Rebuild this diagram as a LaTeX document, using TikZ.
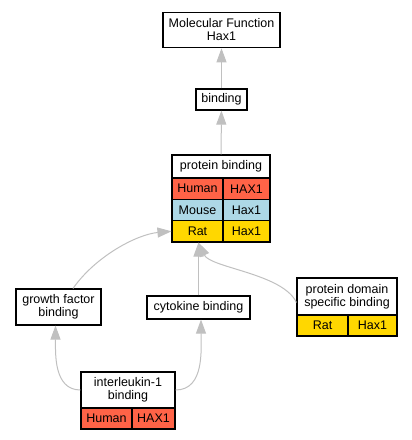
\documentclass[tikz,border=0pt]{standalone}
\usepackage{fontspec}
\setmainfont{Liberation Sans}
\usetikzlibrary{arrows.meta}
\definecolor{tomato}{HTML}{FF6347}
\definecolor{lightblue}{HTML}{ADD8E6}
\definecolor{gold}{HTML}{FFD700}
\definecolor{edgegray}{HTML}{C0C0C0}

\begin{document}
\begin{tikzpicture}[x=1pt,y=1pt, isa/.style={draw=edgegray, line width=1pt, -{Triangle[length=14pt,width=10pt]}}]
        \useasboundingbox (0,0) rectangle (412,-440);
        \begin{scope}[every node/.style={draw, line width=1.1pt, inner sep=0pt, align=center, font=\fontsize{12.5}{13}\selectfont}]
                \node[minimum width=117pt, minimum height=35.5pt] (mf) at (221.5,-30) {Molecular Function\\Hax1};
                \node[minimum width=51pt, minimum height=21pt] (bind) at (221.5,-99.5) {binding};
                % protein binding table
                \node[minimum width=98pt, minimum height=23pt] (pb) at (221,-166.5) {protein binding};
                \node[fill=tomato, minimum width=51pt, minimum height=21.3pt] (pb1a) at (197.5,-188.7) {Human};
                \node[fill=tomato, minimum width=47pt, minimum height=21.3pt] (pb1b) at (246.5,-188.7) {HAX1};
                \node[fill=lightblue, minimum width=51pt, minimum height=21.3pt] (pb2a) at (197.5,-210) {Mouse};
                \node[fill=lightblue, minimum width=47pt, minimum height=21.3pt] (pb2b) at (246.5,-210) {Hax1};
                \node[fill=gold, minimum width=51pt, minimum height=21.3pt] (pb3a) at (197.5,-231.3) {Rat};
                \node[fill=gold, minimum width=47pt, minimum height=21.3pt] (pb3b) at (246.5,-231.3) {Hax1};
                \node[minimum width=85pt, minimum height=36pt] (gfb) at (58.5,-307) {growth factor\\binding};
                \node[minimum width=103pt, minimum height=23pt] (cb) at (198.5,-307.5) {cytokine binding};
                % protein domain specific binding table
                \node[minimum width=100pt, minimum height=37pt] (pds) at (347,-296.5) {protein domain\\specific binding};
                \node[fill=gold, minimum width=51pt, minimum height=21pt] (pds1a) at (322.5,-325.5) {Rat};
                \node[fill=gold, minimum width=49pt, minimum height=21pt] (pds1b) at (372.5,-325.5) {Hax1};
                % interleukin-1 binding table
                \node[minimum width=94pt, minimum height=36pt] (il) at (128,-390) {interleukin-1\\binding};
                \node[fill=tomato, minimum width=51pt, minimum height=21pt] (il1a) at (106.5,-418.5) {Human};
                \node[fill=tomato, minimum width=43pt, minimum height=21pt] (il1b) at (153.5,-418.5) {HAX1};
        \end{scope}
        \coordinate (pbtip) at (cb.north |- pb3a.south);
        % is_a edges, child to parent
        \draw[isa] (bind) -- (mf);
        \draw[isa] (pb) -- (bind);
        \draw[isa] ([xshift=14.5pt]gfb.north) to [out=55, in=185, out distance=40pt, in distance=34pt] (pb3a.west);
        \draw[isa] (cb) -- (pbtip);
        \draw[isa] ([yshift=-6pt]pds.west) to [out=115, in=-65, out distance=32pt, in distance=28pt] (pbtip);
        \draw[isa] (il.west) to [out=180, in=-90] ([xshift=-3pt]gfb.south);
        \draw[isa] (il.east) to [out=0, in=-90] ([xshift=2.5pt]cb.south);
\end{tikzpicture}
\end{document}
